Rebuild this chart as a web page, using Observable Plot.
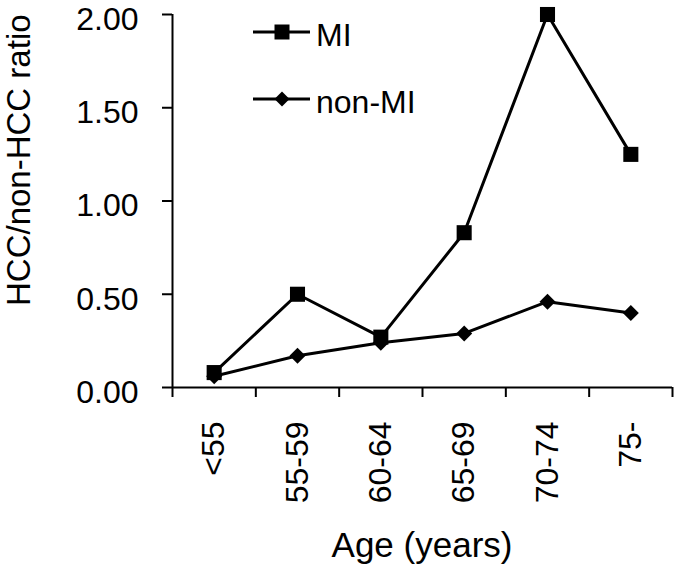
<!DOCTYPE html>
<html><head><meta charset="utf-8">
<script src="https://cdn.jsdelivr.net/npm/d3@7"></script>
<script src="https://cdn.jsdelivr.net/npm/@observablehq/plot@0.6"></script>
<style>
body{margin:0;background:#fff}
#chart{width:675px;height:568px;position:relative;overflow:hidden}
</style>
</head><body><div id="chart"></div>
<script>
const ageGroups = ["<55", "55-59", "60-64", "65-69", "70-74", "75-"];
const miValues = [0.08, 0.50, 0.27, 0.83, 2.00, 1.25];
const nonMiValues = [0.06, 0.17, 0.24, 0.29, 0.46, 0.40];
const yTicks = [0, 0.5, 1, 1.5, 2];
const seriesNames = ["MI", "non-MI"];
const xTitle = "Age (years)";
const yTitle = "HCC/non-HCC ratio";

const idx = d3.range(ageGroups.length);
const mi = idx.map(i => ({i, value: miValues[i]}));
const nonMi = idx.map(i => ({i, value: nonMiValues[i]}));
const boundaries = d3.range(ageGroups.length + 1).map(i => i - 0.5);

const diamond = {draw(ctx, size) {
  const r = Math.sqrt(size / Math.PI);
  ctx.moveTo(0, -r); ctx.lineTo(r, 0); ctx.lineTo(0, r); ctx.lineTo(-r, 0); ctx.closePath();
}};

const W = 675, H = 568, mL = 172, mR = 3, mT = 14, mB = 181;
const font = "'Liberation Sans', Arial, sans-serif";

const plot = Plot.plot({
  width: W, height: H,
  marginLeft: mL, marginRight: mR, marginTop: mT, marginBottom: mB,
  style: {fontFamily: font, fontSize: "32px", color: "#000", background: "#fff", overflow: "visible"},
  x: {type: "linear", domain: [-0.5, ageGroups.length - 0.5]},
  y: {domain: [0, 2]},
  marks: [
    Plot.axisY({ticks: yTicks, tickFormat: () => "", tickSize: 10, label: null, strokeWidth: 2}),
    Plot.axisY({ticks: yTicks, tickFormat: d3.format(".2f"), tickSize: 0, tickPadding: 34, label: null, fontSize: 32, dy: 5}),
    Plot.axisX({ticks: boundaries, tickFormat: () => "", tickSize: 10, label: null, strokeWidth: 2}),
    Plot.axisX({ticks: idx, tickFormat: i => ageGroups[i], tickSize: 0, tickPadding: 34, tickRotate: -90, label: null, fontSize: 32}),
    Plot.ruleY([0], {stroke: "#000", strokeWidth: 2}),
    Plot.ruleX([-0.5], {y1: 0, y2: 2, stroke: "#000", strokeWidth: 2}),
    Plot.line(mi, {x: "i", y: "value", stroke: "#000", strokeWidth: 3}),
    Plot.dot(mi, {x: "i", y: "value", symbol: "square", r: 8.5, fill: "#000", stroke: "none"}),
    Plot.line(nonMi, {x: "i", y: "value", stroke: "#000", strokeWidth: 3}),
    Plot.dot(nonMi, {x: "i", y: "value", symbol: diamond, r: 8, fill: "#000", stroke: "none"})
  ]
});

document.getElementById("chart").appendChild(plot);

const svg = d3.select(plot);
// Axis titles
svg.append("text")
  .attr("transform", "translate(30,306) rotate(-90)")
  .attr("text-anchor", "start")
  .style("font-family", font).style("font-size", "33px").attr("fill", "#000")
  .text(yTitle);
svg.append("text")
  .attr("x", (mL + (W - mR)) / 2).attr("y", 557)
  .attr("text-anchor", "middle")
  .style("font-family", font).style("font-size", "35px").attr("fill", "#000")
  .text(xTitle);

// Legend
const legend = svg.append("g").style("font-family", font).style("font-size", "32px").attr("text-anchor", "start");
const legendRows = [
  {name: seriesNames[0], y: 32, sym: d3.symbol().type(d3.symbolSquare).size(15 * 15)},
  {name: seriesNames[1], y: 99, sym: d3.symbol().type(diamond).size(Math.PI * 7.5 * 7.5)}
];
legendRows.forEach(r => {
  legend.append("line").attr("x1", 253).attr("x2", 310).attr("y1", r.y).attr("y2", r.y)
    .attr("stroke", "#000").attr("stroke-width", 3);
  legend.append("path").attr("d", r.sym()).attr("transform", `translate(282,${r.y})`).attr("fill", "#000");
  legend.append("text").attr("x", 316).attr("y", r.y + 14).attr("text-anchor", "start").attr("fill", "#000").text(r.name);
});
</script>
</body></html>
